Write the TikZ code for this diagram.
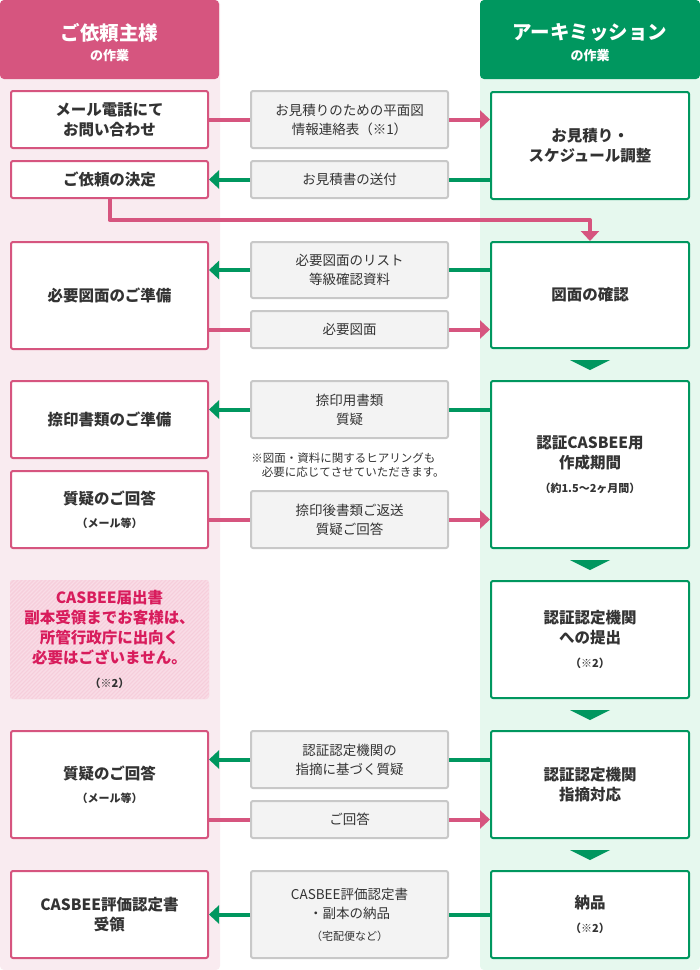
\documentclass[tikz,border=0pt]{standalone}
\usepackage{fontspec}
\setmainfont{Noto Sans CJK JP}
\usetikzlibrary{arrows.meta}

\definecolor{pk}{HTML}{D6557F}
\definecolor{pkbg}{HTML}{F9EBF0}
\definecolor{gr}{HTML}{00975F}
\definecolor{grbg}{HTML}{E6F8EE}
\definecolor{gy}{HTML}{C8C8C8}
\definecolor{paper}{HTML}{F3F3F3}
\definecolor{ink}{HTML}{333333}
\definecolor{notefill}{HTML}{F6CEDB}
\definecolor{notestripe}{HTML}{F9DCE6}
\definecolor{notepk}{HTML}{D81C5C}

\newcommand{\boxfont}{\fontsize{15.5}{20}\selectfont\bfseries}
\newcommand{\midfont}{\fontsize{13.5}{19}\selectfont}
\newcommand{\subtxt}{\fontsize{11}{14}\selectfont}

\tikzset{
  hdbox/.style={minimum width=219pt,minimum height=79pt,rounded corners=4pt,inner sep=0pt,align=center,text=white,font=\bfseries},
  lbox/.style={draw=pk,line width=2pt,fill=white,rounded corners=2pt,minimum width=197pt,inner sep=0pt,align=center,text=ink,font=\boxfont},
  rbox/.style={lbox,draw=gr,minimum width=198pt},
  mbox/.style={draw=gy,line width=2pt,fill=paper,rounded corners=2pt,minimum width=197pt,inner sep=0pt,align=center,text=ink,font=\midfont},
  pkline/.style={draw=pk,line width=4pt},
  grline/.style={draw=gr,line width=4pt},
  arrowend/.style={-{Triangle[length=10pt,width=18pt]}},
  stripe/.style={draw=notestripe,line width=1.4pt},
}

\begin{document}
\begin{tikzpicture}[x=1pt,y=-1pt,line join=round]
  \useasboundingbox (0,0) rectangle (700,970);
  % column backgrounds
  \fill[pkbg,rounded corners=4pt] (0,0) rectangle (220,970);
  \fill[grbg,rounded corners=4pt] (480,0) rectangle (700,970);
  \node[hdbox,fill=pk] (hdl) at (109.5,39.5) {};
  \node[text=white,font={\fontsize{19.5}{24}\selectfont\bfseries}] (hdlt) at (hdl.center) [yshift=7pt] {ご依頼主様};
  \node[text=white,font={\fontsize{13}{15}\selectfont\bfseries}] (hdls) at (hdl.center) [yshift=-16pt] {の作業};
  \node[hdbox,fill=gr,minimum width=220pt] (hdr) at (590,39.5) {};
  \node[text=white,font={\fontsize{19.5}{24}\selectfont\bfseries}] (hdrt) at (hdr.center) [yshift=7pt] {アーキミッション};
  \node[text=white,font={\fontsize{13}{15}\selectfont\bfseries}] (hdrs) at (hdr.center) [yshift=-16pt] {の作業};

  % left column
  \node[lbox,minimum height=57pt] (l1) at (109.5,119.5) {メール電話にて\\お問い合わせ};
  \node[lbox,minimum height=37pt] (l2) at (109.5,179.5) {ご依頼の決定};
  \node[lbox,minimum height=107pt] (l3) at (109.5,295.5) {必要図面のご準備};
  \node[lbox,minimum height=77pt] (l4) at (109.5,419.5) {捺印書類のご準備};
  \node[lbox,minimum height=77pt] (l5) at (109.5,509.5) {質疑のご回答\\[3pt]{\subtxt （メール等）}};
  \node[minimum width=199pt,minimum height=119pt,inner sep=0pt,rounded corners=3pt,fill=notefill,align=center,text=notepk,font=\boxfont,
    path picture={\foreach \s in {-125,-121,...,205}{\draw[stripe] ([xshift=\s pt]path picture bounding box.south west) -- ++(130pt,130pt);}}]
    (note) at (109.5,639.5) {CASBEE届出書\\副本受領までお客様は、\\所管行政庁に出向く\\必要はございません。\\[4pt]{\color{ink}\subtxt （※2）}};
  \node[lbox,minimum height=107pt] (l6) at (109.5,784.5) {質疑のご回答\\[3pt]{\subtxt （メール等）}};
  \node[lbox,minimum height=87pt] (l7) at (109.5,914.5) {CASBEE評価認定書\\受領};

  % middle column
  \node[mbox,minimum height=57pt] (m1) at (349.5,119.5) {お見積りのための平面図\\情報連絡表（※1）};
  \node[mbox,minimum height=37pt] (m2) at (349.5,179.5) {お見積書の送付};
  \node[mbox,minimum height=56pt] (m3) at (349.5,270) {必要図面のリスト\\等級確認資料};
  \node[mbox,minimum height=37pt] (m4) at (349.5,329.5) {必要図面};
  \node[mbox,minimum height=57pt] (m5) at (349.5,409.5) {捺印用書類\\質疑};
  \node[align=left,text=ink,font={\fontsize{11.5}{14}\selectfont},inner sep=0pt] (hear) at (348,465) {※図面・資料に関するヒアリングも\\\hspace*{0.9em}必要に応じてさせていただきます。};
  \node[mbox,minimum height=57pt] (m6) at (349.5,519.5) {捺印後書類ご返送\\質疑ご回答};
  \node[mbox,minimum height=57pt] (m7) at (349.5,759.5) {認証認定機関の\\指摘に基づく質疑};
  \node[mbox,minimum height=37pt] (m8) at (349.5,819.5) {ご回答};
  \node[mbox,minimum height=87pt] (m9) at (349.5,914.5) {CASBEE評価認定書\\・副本の納品\\[3pt]{\subtxt （宅配便など）}};

  % right column
  \node[rbox,minimum height=107pt] (r1) at (590,145.5) {お見積り・\\スケジュール調整};
  \node[rbox,minimum height=106pt] (r2) at (590,295) {図面の確認};
  \node[rbox,minimum height=167pt] (r3) at (590,464.5) {認証CASBEE用\\作成期間\\[4pt]{\subtxt （約1.5〜2ヶ月間）}};
  \node[rbox,minimum height=117pt] (r4) at (590,639.5) {認証認定機関\\への提出\\[4pt]{\subtxt （※2）}};
  \node[rbox,minimum height=107pt] (r5) at (590,784.5) {認証認定機関\\指摘対応};
  \node[rbox,minimum height=87pt] (r6) at (590,914.5) {納品\\[4pt]{\subtxt （※2）}};

  % flow between the right boxes
  \foreach \n in {r2,r3,r4,r5}{
    \fill[gr] ([xshift=-20pt,yshift=-11pt]\n.south) -- ([xshift=20pt,yshift=-11pt]\n.south) -- ([yshift=-21pt]\n.south) -- cycle;
  }

  % connectors
  \draw[pkline] (l1.east) -- (m1.west);
  \draw[pkline,arrowend] (m1.east) -- (m1.east -| r1.west);
  \draw[grline] (m2.east -| r1.west) -- (m2.east);
  \draw[grline,arrowend] (m2.west) -- (l2.east);
  \draw[pkline,arrowend] (l2.south) -- ++(0,21) -| (r2.north);
  \draw[grline] (m3.east -| r2.west) -- (m3.east);
  \draw[grline,arrowend] (m3.west) -- (m3.west -| l3.east);
  \draw[pkline] (m4.west -| l3.east) -- (m4.west);
  \draw[pkline,arrowend] (m4.east) -- (m4.east -| r2.west);
  \draw[grline] (m5.east -| r3.west) -- (m5.east);
  \draw[grline,arrowend] (m5.west) -- (m5.west -| l4.east);
  \draw[pkline] (m6.west -| l5.east) -- (m6.west);
  \draw[pkline,arrowend] (m6.east) -- (m6.east -| r3.west);
  \draw[grline] (m7.east -| r5.west) -- (m7.east);
  \draw[grline,arrowend] (m7.west) -- (m7.west -| l6.east);
  \draw[pkline] (m8.west -| l6.east) -- (m8.west);
  \draw[pkline,arrowend] (m8.east) -- (m8.east -| r5.west);
  \draw[grline] (r6.west) -- (m9.east);
  \draw[grline,arrowend] (m9.west) -- (l7.east);
\end{tikzpicture}
\end{document}
